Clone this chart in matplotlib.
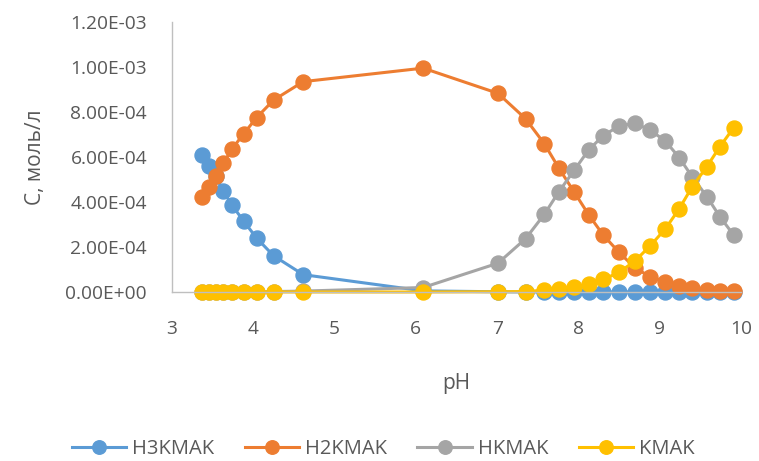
import matplotlib
matplotlib.use("Agg")
import matplotlib.pyplot as plt
from matplotlib.ticker import FuncFormatter, MultipleLocator

plt.rcParams['font.family'] = ['Open Sans', 'DejaVu Sans']

# pH values (shared by all series)
ph = [3.365, 3.45, 3.54, 3.63, 3.74, 3.88, 4.04, 4.25, 4.615, 6.09,
      7.01, 7.35, 7.58, 7.76, 7.95, 8.125, 8.305, 8.50, 8.695, 8.88,
      9.07, 9.24, 9.40, 9.58, 9.74, 9.91]

# concentrations, mol/l
h3kmak = [6.09e-4, 5.60e-4, 5.15e-4, 4.49e-4, 3.85e-4, 3.16e-4, 2.40e-4, 1.61e-4, 7.7e-5, 5e-6,
          1e-6, 0, 0, 0, 0, 0, 0, 0, 0, 0,
          0, 0, 0, 0, 0, 0]
h2kmak = [4.24e-4, 4.68e-4, 5.15e-4, 5.72e-4, 6.37e-4, 7.02e-4, 7.75e-4, 8.53e-4, 9.35e-4, 9.95e-4,
          8.83e-4, 7.70e-4, 6.59e-4, 5.50e-4, 4.43e-4, 3.44e-4, 2.53e-4, 1.76e-4, 1.08e-4, 6.8e-5,
          4.4e-5, 2.7e-5, 1.6e-5, 9e-6, 6e-6, 3e-6]
hkmak = [0, 0, 0, 0, 0, 0, 1e-6, 2e-6, 4e-6, 2.0e-5,
         1.28e-4, 2.37e-4, 3.45e-4, 4.46e-4, 5.42e-4, 6.31e-4, 6.95e-4, 7.38e-4, 7.50e-4, 7.20e-4,
         6.71e-4, 5.97e-4, 5.12e-4, 4.24e-4, 3.35e-4, 2.53e-4]
kmak = [0, 0, 0, 0, 0, 0, 0, 0, 0, 0,
        1e-6, 2e-6, 8e-6, 1.2e-5, 2.1e-5, 3.4e-5, 5.6e-5, 8.7e-5, 1.38e-4, 2.04e-4,
        2.81e-4, 3.70e-4, 4.68e-4, 5.57e-4, 6.46e-4, 7.30e-4]

series = [("H3KMAK", h3kmak, "#5B9BD5"),
          ("H2KMAK", h2kmak, "#ED7D31"),
          ("HKMAK", hkmak, "#A5A5A5"),
          ("KMAK", kmak, "#FFC000")]

txt = '#595959'

fig = plt.figure(figsize=(7.59, 4.61), dpi=100)
ax = fig.add_axes([172 / 759, 1 - 292 / 461, (741 - 172) / 759, (292 - 22) / 461])

for name, vals, col in series:
    ax.plot(ph, vals, color=col, lw=2.2, marker='o', ms=10.8, label=name, clip_on=False)

ax.set_xlim(3, 10)
ax.set_ylim(0, 1.2e-3)
ax.xaxis.set_major_locator(MultipleLocator(1))
ax.yaxis.set_major_locator(MultipleLocator(2e-4))
ax.yaxis.set_major_formatter(FuncFormatter(lambda v, p: f"{v:.2E}"))

for s in ['top', 'right']:
    ax.spines[s].set_visible(False)
for s in ['left', 'bottom']:
    ax.spines[s].set_color('#BFBFBF')
    ax.spines[s].set_linewidth(1)
ax.tick_params(length=0, labelsize=13.8, colors=txt)
ax.tick_params(axis='x', pad=20)
ax.tick_params(axis='y', pad=18)

ax.set_xlabel("pH", fontsize=15, color=txt)
ax.xaxis.set_label_coords(0.5, (292 - 383) / 270)
ax.xaxis.label.set_va('center')
ax.set_ylabel("C, моль/л", fontsize=15, color=txt)
ax.yaxis.set_label_coords((36 - 172) / 569, 0.5)
ax.yaxis.label.set_va('center')

fig.legend(loc='center', bbox_to_anchor=(0.505, 1 - 449 / 461), ncol=4, frameon=False,
           fontsize=14.5, labelcolor=txt, handlelength=2.7, columnspacing=1.5,
           handletextpad=0.3, markerscale=0.9)

fig.savefig("out.png", dpi=100)
